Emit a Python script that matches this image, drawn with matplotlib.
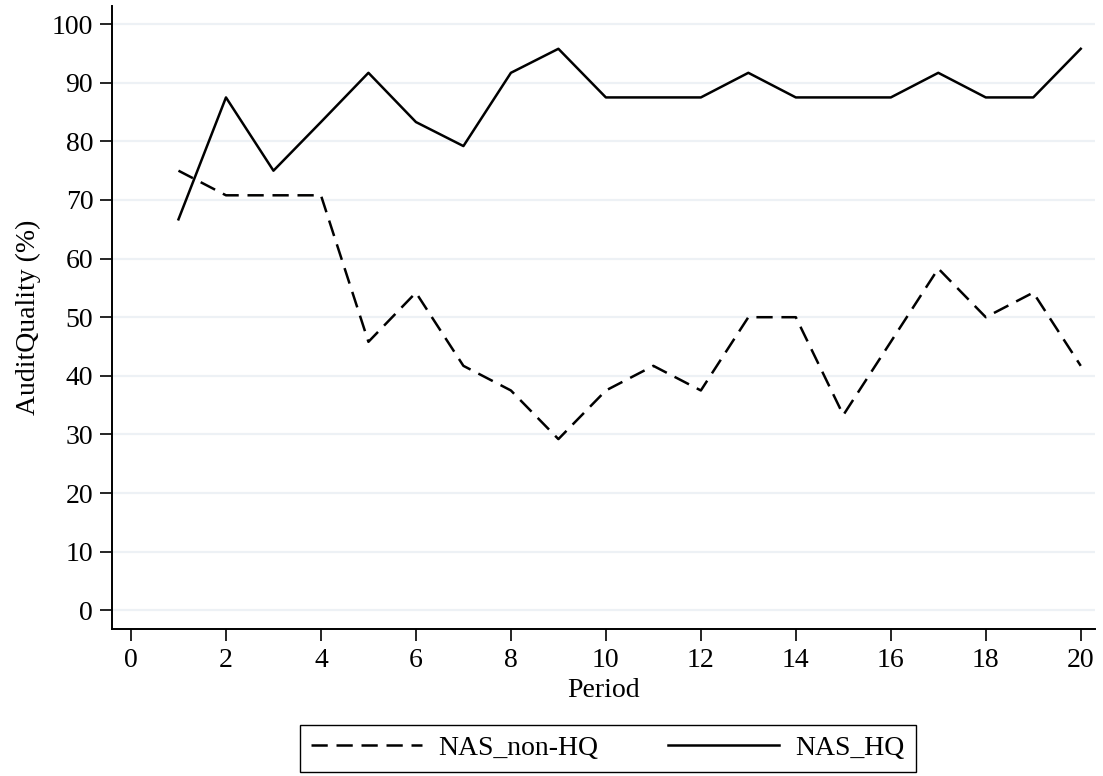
import matplotlib
matplotlib.use("Agg")
import matplotlib.pyplot as plt

# data
period = list(range(1, 21))
nas_non_hq = [75.0, 70.8, 70.8, 70.8, 45.8, 54.2, 41.7, 37.5, 29.2, 37.5,
              41.7, 37.5, 50.0, 50.0, 33.3, 45.8, 58.3, 50.0, 54.2, 41.7]
nas_hq = [66.7, 87.5, 75.0, 83.3, 91.7, 83.3, 79.2, 91.7, 95.8, 87.5,
          87.5, 87.5, 91.7, 87.5, 87.5, 87.5, 91.7, 87.5, 87.5, 95.8]
xticks = list(range(0, 21, 2))
yticks = list(range(0, 101, 10))

plt.rcParams['font.family'] = ['Liberation Serif', 'DejaVu Serif']
plt.rcParams['font.size'] = 20

fig = plt.figure(figsize=(11.03, 7.76), dpi=100)
ax = fig.add_axes([112 / 1103, 1 - 629 / 776, (1095 - 112) / 1103, (629 - 6) / 776])

for y in yticks:
    ax.axhline(y, color='#edf1f5', lw=1.6, zorder=0)

ax.plot(period, nas_non_hq, color='black', lw=1.8, linestyle=(0, (6.5, 3.5)), label='NAS_non-HQ')
ax.plot(period, nas_hq, color='black', lw=1.8, label='NAS_HQ')

ax.set_xlim(-0.4, 20.3)
ax.set_ylim(-3.2, 103.1)
ax.set_xticks(xticks)
ax.set_yticks(yticks)
for s in ['top', 'right']:
    ax.spines[s].set_visible(False)
for s in ['left', 'bottom']:
    ax.spines[s].set_linewidth(1.4)
ax.tick_params(axis='both', length=8.5, width=1.2, pad=5, labelsize=20)

ax.set_xlabel('Period', fontsize=20, labelpad=4)
ax.set_ylabel('AuditQuality (%)', fontsize=20, labelpad=8)

leg = fig.legend(loc='lower center', bbox_to_anchor=(0.551, -0.013), ncol=2,
                 handlelength=4.0, columnspacing=2.5, handletextpad=0.6,
                 fancybox=False, edgecolor='black', framealpha=1, fontsize=20,
                 borderpad=0.4)
leg.get_frame().set_linewidth(1.0)

fig.savefig('out.png', dpi=100)
